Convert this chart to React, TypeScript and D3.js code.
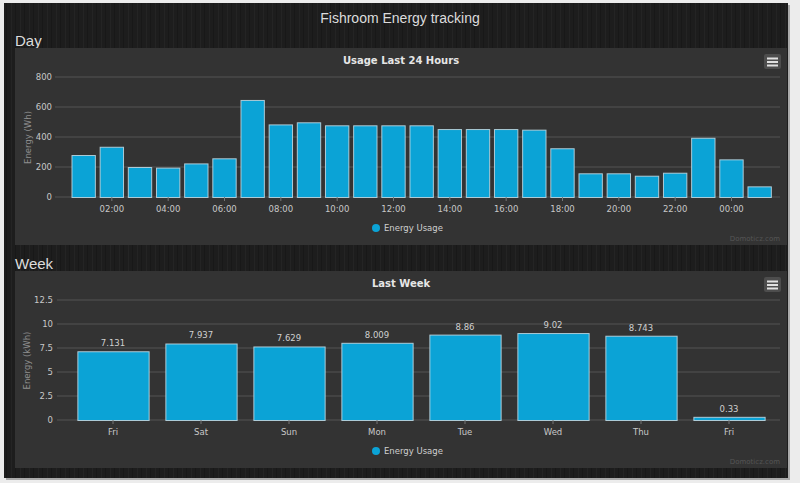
import { useEffect, useRef } from "react";
import * as d3 from "d3";

// Day chart: hour offsets from midnight and usage in Wh
const dayHours = [1, 2, 3, 4, 5, 6, 7, 8, 9, 10, 11, 12, 13, 14, 15, 16, 17, 18, 19, 20, 21, 22, 23, 24, 25];
const dayValues = [280, 335, 200, 196, 224, 258, 647, 484, 498, 478, 478, 478, 478, 453, 453, 453, 449, 325, 158, 158, 142, 162, 395, 251, 71];
const dayTickHours = [2, 4, 6, 8, 10, 12, 14, 16, 18, 20, 22, 24];
const dayYTicks = [0, 200, 400, 600, 800];

// Week chart: days and usage in kWh
const weekDays = ["Fri", "Sat", "Sun", "Mon", "Tue", "Wed", "Thu", "Fri "];
const weekValues = [7.131, 7.937, 7.629, 8.009, 8.86, 9.02, 8.743, 0.33];
const weekYTicks = [0, 2.5, 5, 7.5, 10, 12.5];

const FONT = '"DejaVu Sans", Verdana, sans-serif';
const BAR = "#0ba3d6";

export default function App() {
  const ref = useRef<SVGSVGElement>(null);

  useEffect(() => {
    const svg = d3.select(ref.current);
    svg.selectAll("*").remove();

    // page background
    svg.append("rect").attr("width", 800).attr("height", 483).attr("fill", "#ececec");
    const defs = svg.append("defs");
    const pat = defs
      .append("pattern")
      .attr("id", "streaks")
      .attr("width", 9)
      .attr("height", 10)
      .attr("patternUnits", "userSpaceOnUse");
    pat.append("rect").attr("width", 9).attr("height", 10).attr("fill", "#1d1d1d");
    pat.append("rect").attr("x", 2).attr("width", 1).attr("height", 10).attr("fill", "#242424");
    pat.append("rect").attr("x", 6).attr("width", 1).attr("height", 10).attr("fill", "#181818");
    svg.append("rect").attr("x", 6).attr("y", 5).attr("width", 784).attr("height", 475).attr("fill", "#aaa");
    svg.append("rect").attr("x", 4).attr("y", 3).attr("width", 784).attr("height", 475).attr("fill", "url(#streaks)");

    svg
      .append("text")
      .attr("x", 400)
      .attr("y", 23)
      .attr("text-anchor", "middle")
      .style("font-family", "Liberation Sans, Arial, sans-serif")
      .style("font-size", "14px")
      .style("fill", "#dcdcdc")
      .text("Fishroom Energy tracking");

    const section = (label: string, y: number) =>
      svg
        .append("text")
        .attr("x", 15)
        .attr("y", y)
        .style("font-family", "Liberation Sans, Arial, sans-serif")
        .style("font-size", "15px")
        .style("fill", "#dcdcdc")
        .text(label);
    section("Day", 46);
    section("Week", 269);

    const panel = (top: number, bottom: number, title: string, yTitle: string, left: number) => {
      const g = svg.append("g");
      g.append("rect")
        .attr("x", 15)
        .attr("y", top)
        .attr("width", 772)
        .attr("height", bottom - top)
        .attr("fill", "#333333");
      g.append("text")
        .attr("x", 401)
        .attr("y", top + 16)
        .attr("text-anchor", "middle")
        .style("font-family", FONT)
        .style("font-size", "10px")
        .style("font-weight", "bold")
        .style("fill", "#e6e6e6")
        .text(title);
      // menu button
      g.append("rect")
        .attr("x", 764)
        .attr("y", top + 6)
        .attr("width", 17)
        .attr("height", 15)
        .attr("rx", 2)
        .attr("fill", "#4d4d4d");
      [0, 1, 2].forEach((i) =>
        g.append("rect")
          .attr("x", 767)
          .attr("y", top + 9.5 + i * 3.5)
          .attr("width", 11)
          .attr("height", 2)
          .attr("fill", "#e0e0e0")
      );
      g.append("text")
        .attr("transform", `translate(${left},${(top + bottom) / 2 - 9}) rotate(-90)`)
        .attr("text-anchor", "middle")
        .style("font-family", FONT)
        .style("font-size", "8.5px")
        .style("fill", "#8f8f8f")
        .text(yTitle);
      // legend
      g.append("circle").attr("cx", 376).attr("cy", bottom - 17).attr("r", 4).attr("fill", BAR);
      g.append("text")
        .attr("x", 384)
        .attr("y", bottom - 14)
        .style("font-family", FONT)
        .style("font-size", "8.5px")
        .style("fill", "#cfcfcf")
        .text("Energy Usage");
      g.append("text")
        .attr("x", 780)
        .attr("y", bottom - 4)
        .attr("text-anchor", "end")
        .style("font-family", FONT)
        .style("font-size", "7px")
        .style("fill", "#555")
        .text("Domoticz.com");
      return g;
    };

    const styleAxis = (ax: d3.Selection<SVGGElement, unknown, null, undefined>) => {
      ax.select(".domain").remove();
      ax.selectAll("text")
        .style("font-family", FONT)
        .style("font-size", "8.5px")
        .style("fill", "#c8c8c8");
    };

    // ---------- Day ----------
    const dg = panel(48, 245, "Usage Last 24 Hours", "Energy (Wh)", 31);
    const base = new Date(2016, 0, 1, 0, 0).getTime();
    const hr = 3600 * 1000;
    const xd = d3
      .scaleTime()
      .domain([new Date(base), new Date(base + 25.74 * hr)])
      .range([55, 780]);
    const yd = d3.scaleLinear().domain([0, 800]).range([197, 77]);

    dg.append("g")
      .selectAll("line")
      .data(dayYTicks)
      .enter()
      .append("line")
      .attr("x1", 55)
      .attr("x2", 780)
      .attr("y1", (d) => yd(d))
      .attr("y2", (d) => yd(d))
      .attr("stroke", "#555")
      .attr("stroke-width", 1);

    const ydAx = dg
      .append("g")
      .attr("transform", "translate(52,0)")
      .call(d3.axisLeft(yd).tickValues(dayYTicks).tickSize(0).tickPadding(0));
    styleAxis(ydAx);
    ydAx.selectAll("text").attr("dy", "0.32em");

    const bw = 0.83 * hr;
    dg.append("g")
      .selectAll("rect")
      .data(dayHours)
      .enter()
      .append("rect")
      .attr("x", (h) => xd(new Date(base + h * hr - bw / 2)) + 0.5)
      .attr("width", (h) => xd(new Date(base + h * hr + bw / 2)) - xd(new Date(base + h * hr - bw / 2)))
      .attr("y", (_, i) => yd(dayValues[i]) + 0.5)
      .attr("height", (_, i) => yd(0) - yd(dayValues[i]))
      .attr("fill", BAR)
      .attr("stroke", "#c4dbe4")
      .attr("stroke-opacity", 0.85)
      .attr("stroke-width", 1);

    const xdAx = dg
      .append("g")
      .attr("transform", "translate(0,197)")
      .call(
        d3
          .axisBottom(xd)
          .tickValues(dayTickHours.map((h) => new Date(base + h * hr)))
          .tickFormat(d3.timeFormat("%H:%M") as any)
          .tickSize(4)
          .tickPadding(5)
      );
    styleAxis(xdAx);
    xdAx.selectAll("line").attr("stroke", "#777");

    // ---------- Week ----------
    const wg = panel(271, 468, "Last Week", "Energy (kWh)", 30);
    const xw = d3.scaleBand<string>().domain(weekDays).range([69, 773]).paddingInner(0.19).paddingOuter(0.095);
    const yw = d3.scaleLinear().domain([0, 12.5]).range([420, 299.5]);

    wg.append("g")
      .selectAll("line")
      .data(weekYTicks)
      .enter()
      .append("line")
      .attr("x1", 57)
      .attr("x2", 780)
      .attr("y1", (d) => Math.round(yw(d)))
      .attr("y2", (d) => Math.round(yw(d)))
      .attr("stroke", "#555")
      .attr("stroke-width", 1);

    const ywAx = wg
      .append("g")
      .attr("transform", "translate(53,0)")
      .call(d3.axisLeft(yw).tickValues(weekYTicks).tickSize(0).tickPadding(0).tickFormat((d) => String(d)));
    styleAxis(ywAx);

    wg.append("g")
      .selectAll("rect")
      .data(weekDays)
      .enter()
      .append("rect")
      .attr("x", (d) => (xw(d) as number) + 0.5)
      .attr("width", xw.bandwidth())
      .attr("y", (_, i) => yw(weekValues[i]) + 0.5)
      .attr("height", (_, i) => yw(0) - yw(weekValues[i]))
      .attr("fill", BAR)
      .attr("stroke", "#c4dbe4")
      .attr("stroke-opacity", 0.85)
      .attr("stroke-width", 1);

    wg.append("g")
      .selectAll("text")
      .data(weekDays)
      .enter()
      .append("text")
      .attr("x", (d) => (xw(d) as number) + xw.bandwidth() / 2)
      .attr("y", (_, i) => yw(weekValues[i]) - 5)
      .attr("text-anchor", "middle")
      .style("font-family", FONT)
      .style("font-size", "8.5px")
      .style("fill", "#d0d0d0")
      .text((_, i) => String(weekValues[i]));

    const xwAx = wg
      .append("g")
      .attr("transform", "translate(0,420)")
      .call(
        d3
          .axisBottom(xw)
          .tickSize(4)
          .tickPadding(5)
          .tickFormat((d) => d.trim())
      );
    styleAxis(xwAx);
    xwAx.selectAll("line").attr("stroke", "#777");
  }, []);

  return (
    <svg
      ref={ref}
      width={800}
      height={483}
      style={{ position: "absolute", left: 0, top: 0 }}
    />
  );
}
